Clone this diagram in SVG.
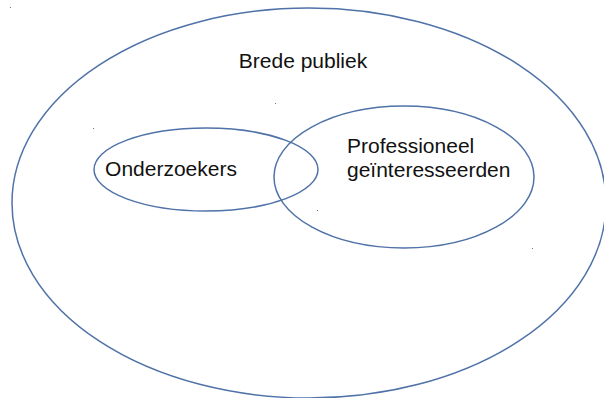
<svg xmlns="http://www.w3.org/2000/svg" width="604" height="398" viewBox="0 0 604 398">
<style>
.ring{fill:none;stroke:#4f72a8;stroke-width:1.5}
.lbl{font-family:"Liberation Sans",Arial,sans-serif;font-size:21px;fill:#111}
.dot{fill:#4f72a8}
</style>
<rect width="604" height="398" fill="#fff"/>
<g id="brede-publiek">
<ellipse class="ring" cx="309" cy="203" rx="297" ry="195"/>
<text class="lbl" x="303" y="68" text-anchor="middle">Brede publiek</text>
</g>
<g id="onderzoekers">
<ellipse class="ring" cx="206" cy="169.5" rx="112" ry="41.5"/>
<text class="lbl" x="171" y="176" text-anchor="middle">Onderzoekers</text>
</g>
<g id="professioneel">
<ellipse class="ring" cx="404" cy="177" rx="130" ry="71"/>
<text class="lbl" x="347" y="153">Professioneel</text>
<text class="lbl" x="347" y="177">geïnteresseerden</text>
</g>
<g id="connectors"></g>
<g id="specks">
<rect class="dot" x="10" y="7" width="1" height="1"/>
<rect class="dot" x="93" y="128" width="1" height="1"/>
<rect class="dot" x="275" y="103" width="1" height="1"/>
<rect class="dot" x="317" y="210" width="1" height="1"/>
<rect class="dot" x="532" y="248" width="1" height="1"/>
</g>
</svg>
